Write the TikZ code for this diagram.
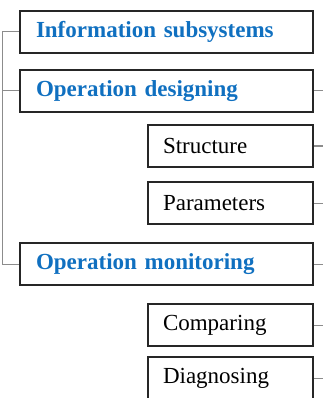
\documentclass[tikz,border=0pt]{standalone}
\usepackage{fontspec}
\setmainfont{Liberation Serif}
\definecolor{headblue}{HTML}{1070C0}
\begin{document}
\begin{tikzpicture}[x=1pt, y=-1pt,
		bigbox/.style={draw=black!85, line width=1.6pt, text width=261pt, inner xsep=16pt, minimum height=42pt, align=left, font=\fontsize{23}{26}\selectfont\bfseries, text=headblue},
		smallbox/.style={draw=black!85, line width=1.6pt, text width=135pt, inner xsep=15pt, minimum height=42pt, align=left, font=\fontsize{23}{26}\selectfont},
		link/.style={draw=black!45, line width=1pt}]
		\useasboundingbox (0, 0) rectangle (323, 398);
		
		\node[bigbox] (info) at (166.5, 32) {Information subsystems};
		\node[bigbox] (design) at (166.5, 91) {Operation designing};
		\node[smallbox] (struct) at (230.5, 146) {Structure};
		\node[smallbox] (param) at (230.5, 203) {Parameters};
		\node[bigbox] (monitor) at (166.5, 264) {Operation monitoring};
		\node[smallbox] (compare) at (230.5, 325) {Comparing};
		\node[smallbox] (diagnose) at (230.5, 378) {Diagnosing};
		
		\coordinate (trunk) at (2.5, 0);
		\coordinate (rim) at (323, 0);
		\draw[link] (info.west) -| (trunk |- monitor.west) -- (monitor.west);
		\draw[link] (design.west) -- (design.west -| trunk);
		
		\draw[link] (design.east) -- (design.east -| rim);
		\draw[link] (struct.east) -- (struct.east -| rim);
		\draw[link] (param.east) -- (param.east -| rim);
		\draw[link] (monitor.east) -- (monitor.east -| rim);
		\draw[link] (compare.east) -- (compare.east -| rim);
		\draw[link] (diagnose.east) -- (diagnose.east -| rim);
	\end{tikzpicture}
\end{document}
